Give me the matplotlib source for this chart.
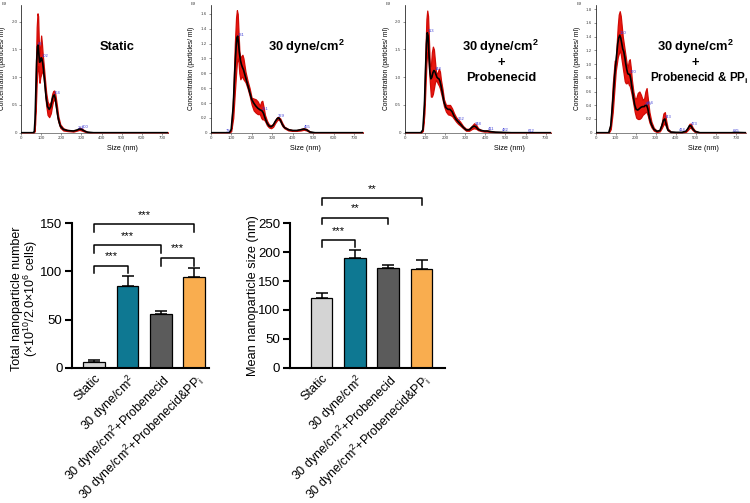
import numpy as np
import matplotlib
matplotlib.use('Agg')
from matplotlib import pyplot as plt

plt.rcParams['font.family'] = ['Liberation Sans', 'DejaVu Sans']
plt.rcParams['mathtext.fontset'] = 'custom'
plt.rcParams['mathtext.rm'] = 'Liberation Sans'
plt.rcParams['mathtext.it'] = 'Liberation Sans:italic'
plt.rcParams['mathtext.bf'] = 'Liberation Sans:bold'

# ---- size distributions (size in nm, concentration in E9 particles/ml) ----
# Static
size_static = [0, 60, 66, 70, 74, 78, 82, 85, 88, 92, 96, 100, 104, 108, 112, 118, 125, 132, 140, 148,
               155, 160, 165, 170, 178, 185, 195, 210, 230, 260, 280, 290, 300, 315, 330, 360, 730]
mean_static = [0, 0, 0.02, 0.25, 0.8, 1.3, 1.55, 1.58, 1.45, 1.27, 1.28, 1.35, 1.33, 1.25, 1.12, 0.9, 0.62, 0.47, 0.42, 0.47,
               0.6, 0.66, 0.68, 0.62, 0.42, 0.25, 0.12, 0.06, 0.04, 0.03, 0.05, 0.07, 0.06, 0.03, 0.01, 0, 0]
hi_static = [0, 0, 0.03, 0.4, 1.2, 1.9, 2.15, 2.1, 1.7, 1.35, 1.55, 1.75, 1.6, 1.4, 1.25, 1.0, 0.72, 0.56, 0.5, 0.56,
             0.7, 0.75, 0.76, 0.7, 0.5, 0.3, 0.15, 0.08, 0.05, 0.04, 0.06, 0.09, 0.08, 0.04, 0.015, 0, 0]
lo_static = [0, 0, 0.01, 0.15, 0.5, 0.9, 1.1, 1.2, 1.15, 0.9, 1.0, 1.05, 1.1, 1.1, 1.0, 0.78, 0.5, 0.32, 0.28, 0.35,
             0.5, 0.58, 0.6, 0.55, 0.34, 0.2, 0.09, 0.04, 0.03, 0.02, 0.04, 0.05, 0.04, 0.02, 0.005, 0, 0]
peaks_static = [83, 102, 164, 281, 300]

# 30 dyne/cm2
size_shear = [0, 90, 100, 110, 118, 124, 128, 132, 136, 140, 145, 150, 155, 160, 170, 180, 190, 200, 210, 220,
              230, 240, 247, 252, 258, 265, 275, 285, 295, 305, 315, 325, 332, 340, 350, 360, 380, 400, 420, 440,
              455, 468, 485, 510, 745]
mean_shear = [0, 0, 0.04, 0.35, 0.85, 1.15, 1.28, 1.3, 1.2, 1.08, 0.98, 0.92, 0.88, 0.85, 0.75, 0.65, 0.55, 0.45, 0.4, 0.36,
              0.33, 0.31, 0.3, 0.29, 0.26, 0.2, 0.13, 0.09, 0.08, 0.1, 0.15, 0.19, 0.2, 0.17, 0.11, 0.07, 0.04, 0.03, 0.03, 0.04,
              0.05, 0.04, 0.01, 0, 0]
hi_shear = [0, 0, 0.06, 0.5, 1.2, 1.55, 1.65, 1.6, 1.35, 1.1, 1.0, 1.03, 1.05, 1.0, 0.82, 0.7, 0.6, 0.47, 0.46, 0.45,
            0.42, 0.36, 0.42, 0.43, 0.35, 0.24, 0.16, 0.11, 0.1, 0.12, 0.17, 0.21, 0.21, 0.19, 0.13, 0.08, 0.05, 0.035, 0.035, 0.05,
            0.06, 0.05, 0.015, 0, 0]
lo_shear = [0, 0, 0.02, 0.2, 0.55, 0.8, 0.95, 1.0, 0.95, 0.8, 0.72, 0.75, 0.75, 0.72, 0.68, 0.6, 0.5, 0.38, 0.3, 0.27,
            0.25, 0.25, 0.2, 0.18, 0.18, 0.16, 0.1, 0.07, 0.06, 0.08, 0.13, 0.17, 0.18, 0.15, 0.09, 0.06, 0.03, 0.025, 0.025, 0.03,
            0.04, 0.03, 0.005, 0, 0]
peaks_shear = [73, 131, 251, 329, 455]

# 30 dyne/cm2 + Probenecid
size_prob = [0, 80, 90, 98, 104, 108, 112, 116, 120, 125, 130, 135, 140, 145, 150, 155, 160, 165, 170, 175,
             180, 188, 195, 205, 215, 225, 235, 245, 255, 265, 275, 290, 305, 320, 335, 345, 355, 365, 380, 395,
             410, 425, 450, 490, 530, 725]
mean_prob = [0, 0, 0.05, 0.5, 1.2, 1.6, 1.8, 1.75, 1.45, 1.1, 0.97, 1.0, 1.08, 1.12, 1.1, 1.05, 1.0, 0.98, 0.97, 0.93,
             0.85, 0.7, 0.55, 0.45, 0.42, 0.42, 0.38, 0.3, 0.24, 0.2, 0.16, 0.1, 0.05, 0.05, 0.1, 0.12, 0.1, 0.06, 0.04, 0.03,
             0.03, 0.02, 0.01, 0.005, 0, 0]
hi_prob = [0, 0, 0.07, 0.7, 1.6, 2.05, 2.2, 2.1, 1.7, 1.2, 1.2, 1.45, 1.55, 1.5, 1.3, 1.1, 1.05, 1.1, 1.15, 1.1,
           0.95, 0.78, 0.6, 0.5, 0.5, 0.5, 0.44, 0.35, 0.28, 0.24, 0.2, 0.12, 0.07, 0.07, 0.13, 0.17, 0.14, 0.08, 0.05, 0.04,
           0.04, 0.03, 0.015, 0.01, 0, 0]
lo_prob = [0, 0, 0.03, 0.35, 0.9, 1.25, 1.45, 1.4, 1.2, 0.9, 0.65, 0.65, 0.7, 0.8, 0.9, 0.95, 0.92, 0.88, 0.85, 0.8,
           0.72, 0.6, 0.48, 0.38, 0.33, 0.32, 0.3, 0.25, 0.2, 0.16, 0.13, 0.08, 0.035, 0.035, 0.07, 0.08, 0.07, 0.045, 0.03, 0.02,
           0.02, 0.012, 0.005, 0.002, 0, 0]
peaks_prob = [113, 148, 262, 348, 411, 482, 612]

# 30 dyne/cm2 + Probenecid & PPi
size_ppi = [0, 65, 75, 85, 95, 100, 105, 110, 115, 120, 125, 130, 135, 140, 145, 150, 155, 160, 165, 170,
            175, 180, 188, 195, 202, 210, 218, 226, 234, 242, 248, 254, 260, 268, 278, 290, 305, 320, 330, 338,
            345, 352, 360, 375, 400, 430, 450, 460, 468, 475, 483, 495, 520, 680, 690, 748]
mean_ppi = [0, 0, 0.1, 0.45, 0.85, 1.0, 1.15, 1.3, 1.38, 1.42, 1.38, 1.3, 1.22, 1.18, 1.1, 1.0, 0.92, 0.86, 0.85, 0.85,
            0.78, 0.68, 0.52, 0.4, 0.34, 0.33, 0.35, 0.37, 0.38, 0.38, 0.4, 0.4, 0.35, 0.22, 0.12, 0.05, 0.02, 0.03, 0.1, 0.18,
            0.2, 0.12, 0.04, 0.01, 0.005, 0.005, 0.02, 0.06, 0.1, 0.1, 0.06, 0.02, 0, 0, 0.005, 0]
hi_ppi = [0, 0, 0.15, 0.7, 1.05, 1.05, 1.3, 1.55, 1.72, 1.77, 1.7, 1.55, 1.4, 1.3, 1.2, 1.1, 1.0, 0.95, 1.05, 1.07,
          0.95, 0.78, 0.6, 0.5, 0.5, 0.58, 0.6, 0.55, 0.48, 0.5, 0.6, 0.65, 0.5, 0.3, 0.16, 0.07, 0.03, 0.04, 0.15, 0.28,
          0.3, 0.17, 0.06, 0.015, 0.008, 0.008, 0.03, 0.08, 0.13, 0.13, 0.08, 0.03, 0, 0, 0.008, 0]
lo_ppi = [0, 0, 0.05, 0.3, 0.7, 0.9, 1.0, 1.1, 1.15, 1.2, 1.15, 1.05, 0.95, 0.85, 0.75, 0.72, 0.72, 0.75, 0.7, 0.68,
          0.62, 0.55, 0.42, 0.3, 0.22, 0.2, 0.2, 0.22, 0.26, 0.28, 0.3, 0.3, 0.25, 0.15, 0.08, 0.03, 0.01, 0.02, 0.07, 0.12,
          0.13, 0.08, 0.03, 0.005, 0.002, 0.002, 0.012, 0.04, 0.07, 0.07, 0.04, 0.01, 0, 0, 0.003, 0]
peaks_ppi = [120, 170, 245, 254, 343, 414, 473, 685]

# ---- bar charts ----
groups = ['Static', '30 dyne/cm$^2$', '30 dyne/cm$^2$+Probenecid', '30 dyne/cm$^2$+Probenecid&PP$_\\mathrm{i}$']
bar_colors = ['#d4d4d4', '#0e7892', '#5b5b5b', '#f9ad4f']
number_mean = [6, 85, 56, 94]
number_err = [2, 10, 3, 10]
size_mean = [120, 190, 172, 171]
size_err = [9, 13, 6, 15]
number_pairs = [(0, 1), (0, 2), (0, 3), (2, 3)]
number_heights = [106, 127, 149, 114]
number_stars = ['***', '***', '***', '***']
size_pairs = [(0, 1), (0, 2), (0, 3)]
size_heights = [221, 260, 294]
size_stars = ['***', '**', '**']

W, H = 750, 503
fig = plt.figure(figsize=(7.5, 5.03), dpi=100)


def box(l, t, r, b):
    return [l / W, 1 - b / H, (r - l) / W, (b - t) / H]


panels = [
    (size_static, mean_static, hi_static, lo_static, peaks_static, (21, 168), 730, 2.3,
     [0, 0.5, 1.0, 1.5, 2.0], 0.69),
    (size_shear, mean_shear, hi_shear, lo_shear, peaks_shear, (210.7, 363.2), 745, 1.72,
     [0, 0.2, 0.4, 0.6, 0.8, 1.0, 1.2, 1.4, 1.6], 0.62),
    (size_prob, mean_prob, hi_prob, lo_prob, peaks_prob, (404.7, 550.7), 725, 2.3,
     [0, 0.5, 1.0, 1.5, 2.0], 0.72),
    (size_ppi, mean_ppi, hi_ppi, lo_ppi, peaks_ppi, (595.7, 745.6), 748, 1.86,
     [0, 0.2, 0.4, 0.6, 0.8, 1.0, 1.2, 1.4, 1.6, 1.8], 0.72),
]

for s, m, hi, lo, peaks, (l, r), xmax, ymax, yt, xlab_pos in panels:
    ax = fig.add_axes(box(l, 5, r, 132.7))
    ax.fill_between(s, lo, hi, color='#e8160f', edgecolor='#d00a05', lw=0.9)
    ax.plot(s, m, color='black', lw=1.2)
    ax.set_xlim(0, xmax)
    ax.set_ylim(0, ymax)
    ax.set_xticks(range(0, 800, 100))
    ax.set_yticks(yt)
    ax.set_yticklabels(['0' if v == 0 else '%.1f' % v for v in yt])
    ax.tick_params(labelsize=3.2, length=1.5, width=0.4, pad=1, colors='#444444')
    ax.spines['top'].set_visible(False)
    ax.spines['right'].set_visible(False)
    ax.spines['left'].set_linewidth(0.5)
    ax.spines['bottom'].set_linewidth(0.5)
    ax.spines['bottom'].set_color('#555555')
    ax.set_xlabel('Size (nm)', fontsize=5.2)
    ax.xaxis.set_label_coords(xlab_pos, -0.1)
    ax.set_ylabel('Concentration (particles/ ml)', fontsize=4.8)
    ax.yaxis.set_label_coords(-0.1, 0.5)
    ax.text(-0.13, 1.0, 'E9', transform=ax.transAxes, fontsize=3, color='#444444')
    for p in peaks:
        ax.text(p, np.interp(p, s, m), str(p), fontsize=3, color='#3b3bd6', ha='left', va='bottom')

title_kw = dict(fontsize=9.3, fontweight='bold', ha='center', va='center')
fig.text(117.5 / W, 1 - 47 / H, 'Static', **title_kw)
fig.text(306.7 / W, 1 - 47 / H, '30 dyne/cm$^\\mathbf{2}$', **title_kw)
fig.text(500.8 / W, 1 - 47 / H, '30 dyne/cm$^\\mathbf{2}$', **title_kw)
fig.text(500.8 / W, 1 - 63 / H, '+', **title_kw)
fig.text(500.8 / W, 1 - 78 / H, 'Probenecid', **title_kw)
fig.text(695 / W, 1 - 47 / H, '30 dyne/cm$^\\mathbf{2}$', **title_kw)
fig.text(695 / W, 1 - 63 / H, '+', **title_kw)
fig.text(699.5 / W, 1 - 78 / H, 'Probenecid & PP$_\\mathbf{i}$',
         fontsize=8.5, fontweight='bold', ha='center', va='center')


def bar_panel(ax, vals, errs, pairs, heights, stars, leg, star_off, ylim, yticks, xlim):
    x = np.arange(len(vals))
    ax.bar(x, vals, width=0.65, color=bar_colors, edgecolor='black', linewidth=0.9, zorder=2)
    ax.errorbar(x, vals, yerr=[np.zeros(len(errs)), errs], fmt='none', ecolor='black',
                elinewidth=1.1, capsize=4, capthick=1.1, zorder=1)
    for (a, b), h, st in zip(pairs, heights, stars):
        ax.plot([a, a, b, b], [h - leg, h, h, h - leg], color='black', lw=1.1, clip_on=False)
        ax.text((a + b) / 2, h + star_off, st, ha='center', va='center', fontsize=8)
    ax.set_xlim(*xlim)
    ax.set_ylim(*ylim)
    ax.set_yticks(yticks)
    ax.set_xticks(x)
    ax.set_xticklabels(groups, rotation=45, ha='right', rotation_mode='anchor', fontsize=9)
    ax.tick_params(axis='x', length=0, pad=3)
    ax.tick_params(axis='y', length=5, width=1.5, labelsize=9.5, pad=2)
    ax.spines['top'].set_visible(False)
    ax.spines['right'].set_visible(False)
    ax.spines['left'].set_linewidth(1.5)
    ax.spines['bottom'].set_linewidth(1.5)


ax1 = fig.add_axes(box(72.3, 223.3, 209.3, 367.7))
bar_panel(ax1, number_mean, number_err, number_pairs, number_heights, number_stars,
          8, 10, (0, 150), [0, 50, 100, 150], (-0.66, 3.45))
ax1.set_ylabel('Total nanoparticle number\n(×10$^{10}$/2.0×10$^{6}$ cells)', fontsize=9, linespacing=0.95)
ax1.yaxis.set_label_coords(-0.235, 0.48)

ax2 = fig.add_axes(box(290, 223.3, 445, 367.7))
bar_panel(ax2, size_mean, size_err, size_pairs, size_heights, size_stars,
          12, 16, (0, 250), [0, 50, 100, 150, 200, 250], (-0.95, 3.7))
ax2.set_ylabel('Mean nanoparticle size (nm)', fontsize=9.2)
ax2.yaxis.set_label_coords(-0.2, 0.5)

fig.savefig('out.png', dpi=100)
